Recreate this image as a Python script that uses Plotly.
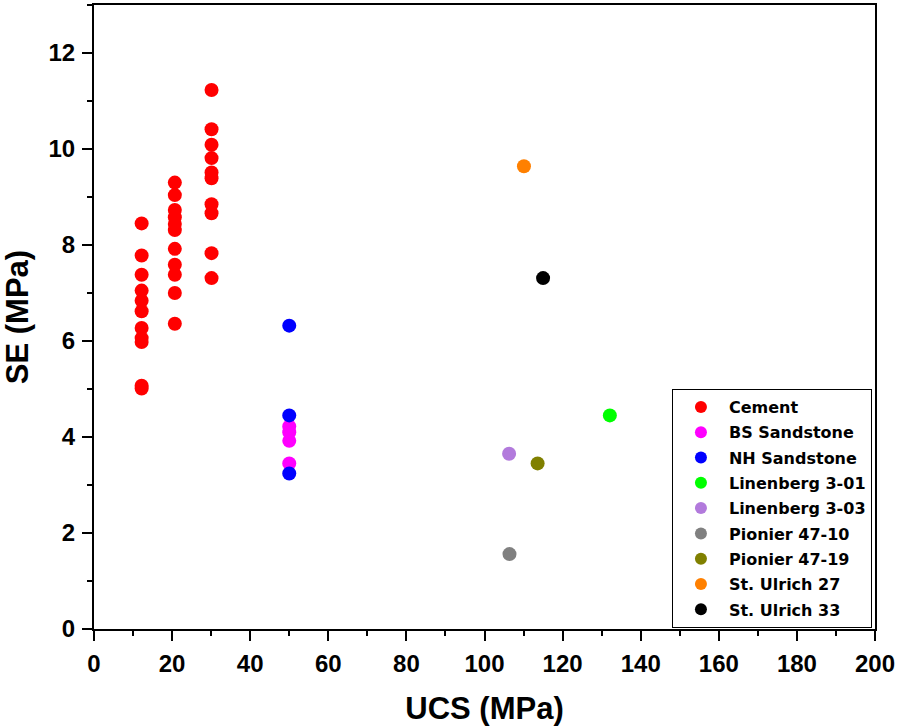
import plotly.graph_objects as go

# Cement specimens, three UCS groups
cement_ucs = [12.2] * 11 + [20.7] * 11 + [30.1] * 10
cement_se = [8.45, 7.78, 7.38, 7.05, 6.84, 6.62, 6.27, 6.06, 5.98, 5.07, 5.01,
             9.30, 9.04, 8.73, 8.58, 8.44, 8.31, 7.92, 7.59, 7.38, 7.00, 6.36,
             11.23, 10.41, 10.09, 9.81, 9.51, 9.39, 8.85, 8.66, 7.83, 7.31]

bs_ucs = [50, 50, 50, 50]
bs_se = [4.22, 4.10, 3.92, 3.45]

nh_ucs = [50, 50, 50]
nh_se = [6.32, 4.45, 3.24]

# single-sample rocks
rock_names = ["Linenberg 3-01", "Linenberg 3-03", "Pionier 47-10", "Pionier 47-19",
              "St. Ulrich 27", "St. Ulrich 33"]
rock_ucs = [132.1, 106.3, 106.4, 113.6, 110.1, 115.0]
rock_se = [4.45, 3.65, 1.56, 3.45, 9.64, 7.31]

series = [
    ("Cement", cement_ucs, cement_se, "#FF0000"),
    ("BS Sandstone", bs_ucs, bs_se, "#FF00FF"),
    ("NH Sandstone", nh_ucs, nh_se, "#0000FF"),
]
rock_colors = ["#00FF00", "#B27ADC", "#808080", "#808000", "#FF8000", "#000000"]
for name, u, s, c in zip(rock_names, rock_ucs, rock_se, rock_colors):
    series.append((name, [u], [s], c))

FONT = "Liberation Sans, Arial, sans-serif"
LEGEND_FONT = "DejaVu Sans, Arial, sans-serif"  # wider glyphs, closer to the original box width

fig = go.Figure()
for name, xs, ys, color in series:
    fig.add_trace(go.Scatter(
        x=xs, y=ys, mode="markers", name=name, legendgroup=name,
        marker=dict(color=color, size=14, line=dict(width=0)),
    ))

axis_common = dict(
    showline=True, linecolor="black", linewidth=2, mirror=True,
    ticks="outside", ticklen=10, tickwidth=2, tickcolor="black",
    showgrid=False, zeroline=False, automargin=False, ticklabelstandoff=2,
    tickfont=dict(family=FONT, size=24, color="black", weight="bold"),
)
minor_common = dict(ticks="outside", ticklen=5, tickwidth=2, tickcolor="black")

fig.update_xaxes(
    range=[0, 200], dtick=20,
    minor=dict(dtick=10, **minor_common),
    title=dict(text="UCS (MPa)", font=dict(family=FONT, size=31, color="black", weight="bold"),
               standoff=22),
    **axis_common,
)
fig.update_yaxes(
    range=[0, 13], dtick=2,
    minor=dict(dtick=1, **minor_common),
    title=dict(text="SE (MPa)", font=dict(family=FONT, size=31, color="black", weight="bold"),
               standoff=18),
    **axis_common,
)

fig.update_layout(
    width=897, height=727,
    margin=dict(l=94, r=22, t=5, b=98),
    plot_bgcolor="white", paper_bgcolor="white",
    legend=dict(
        x=0.74, y=0.3846, xanchor="left", yanchor="top",
        bgcolor="white", bordercolor="black", borderwidth=1,
        font=dict(family=LEGEND_FONT, size=16, color="black", weight="bold"),
        tracegroupgap=1.5, itemwidth=46, itemsizing="constant",
    ),
)

# drop the browser's default body margin so the figure sits at the page corner
fig.write_html("out.html", config={"displayModeBar": False},
               post_script="document.body.style.margin='0';")
